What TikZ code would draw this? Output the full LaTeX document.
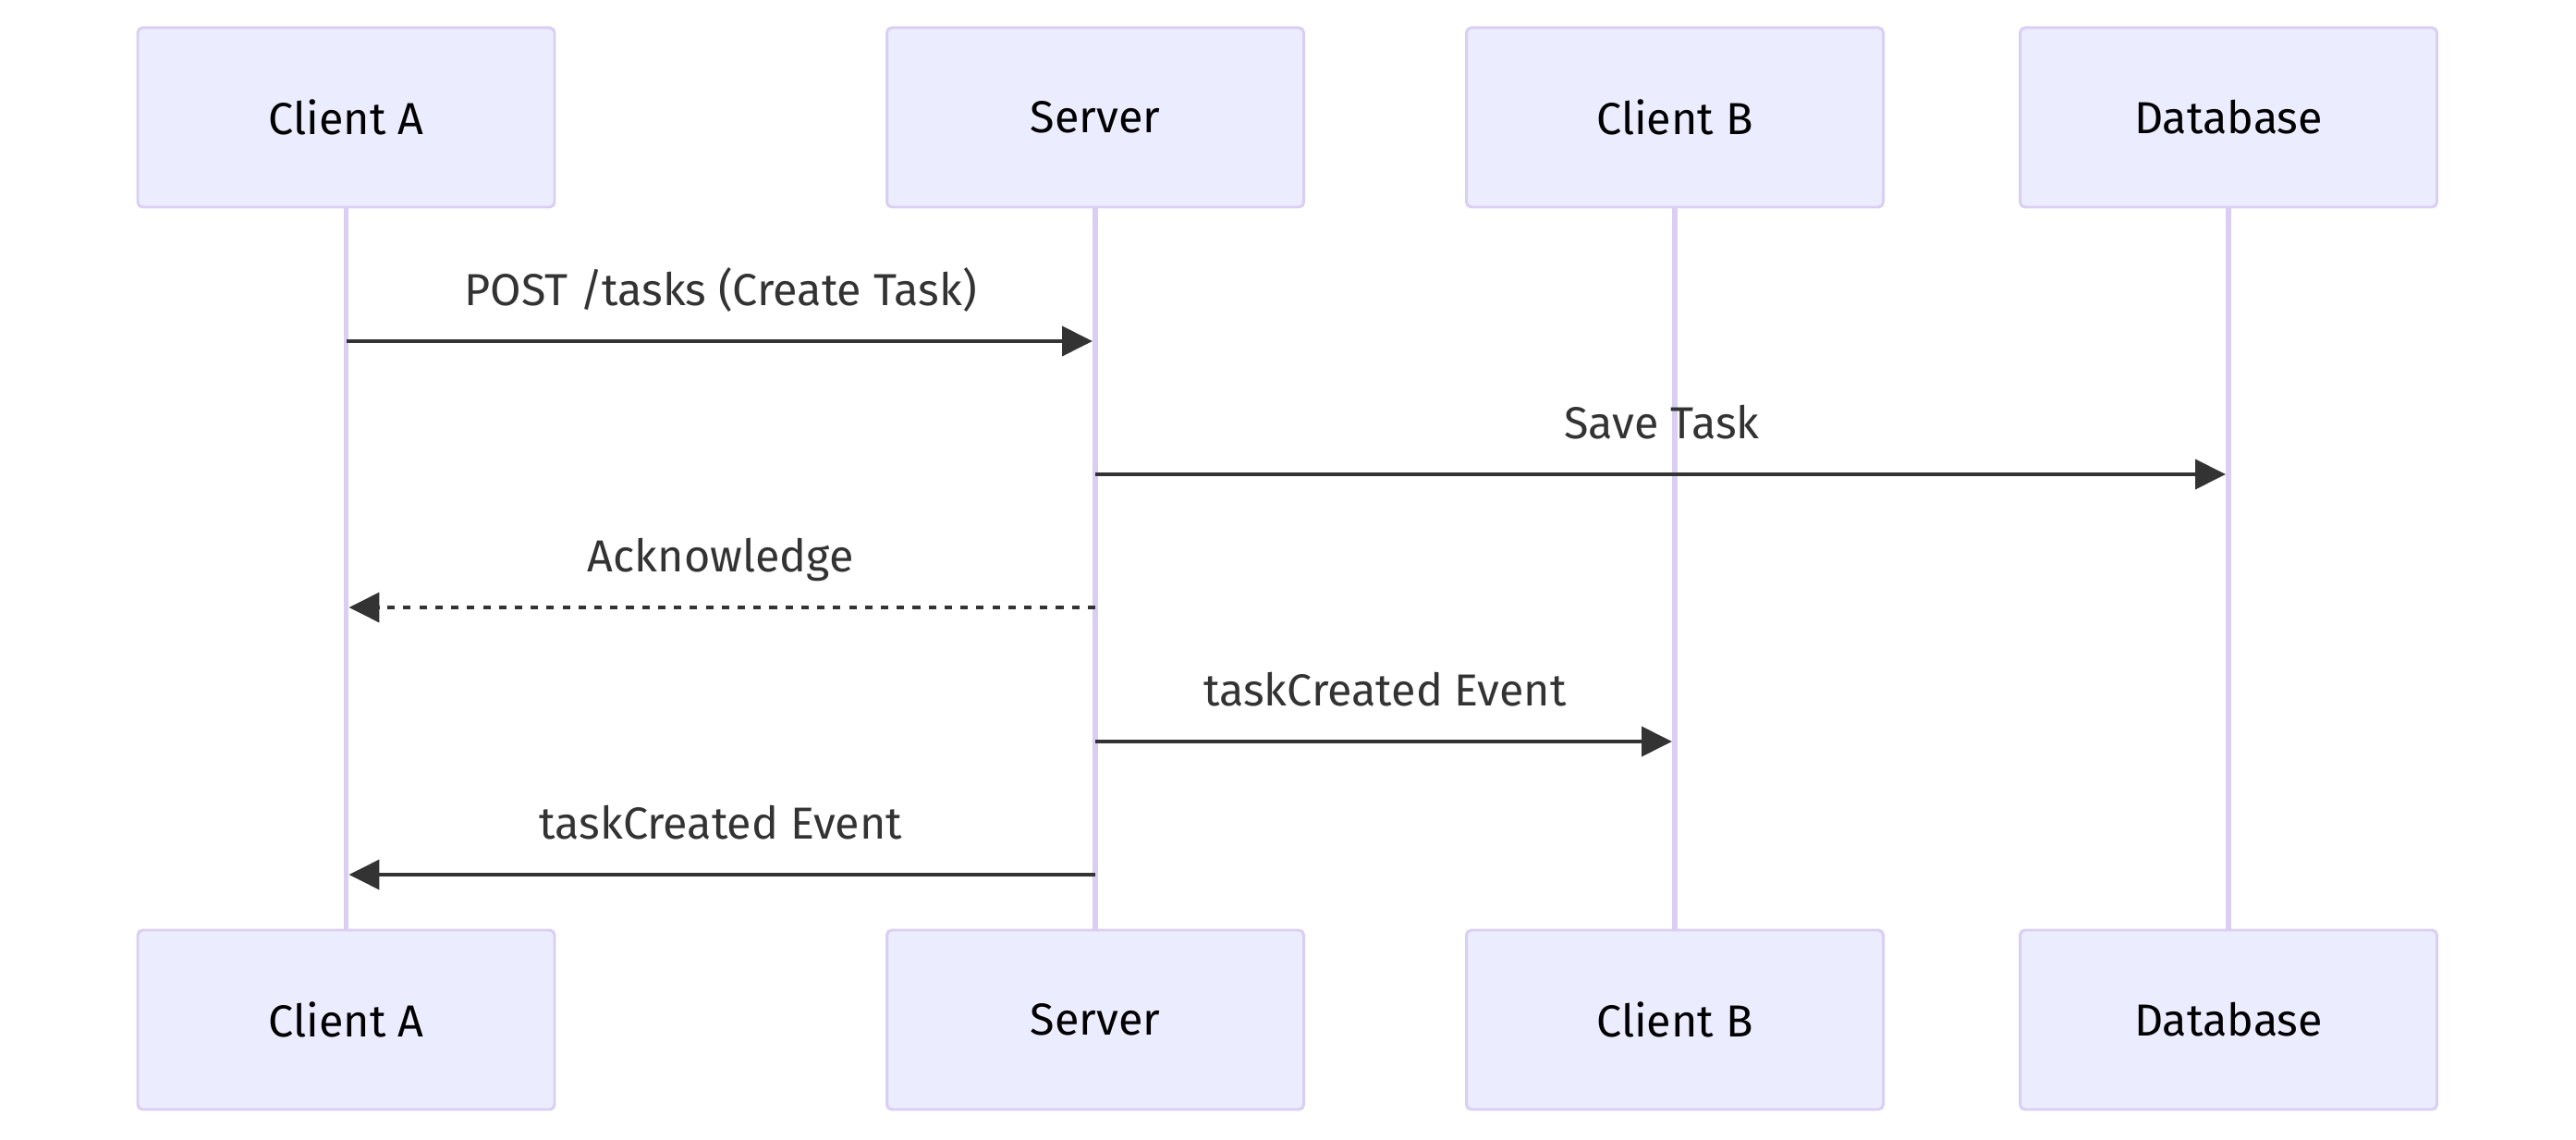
\documentclass[tikz,border=0pt]{standalone}
\usepackage{fontspec}
\setmainfont{Fira Sans}
\usetikzlibrary{arrows.meta}
\definecolor{actorfill}{HTML}{ECECFF}
\definecolor{actorborder}{HTML}{DACEF3}
\definecolor{lifelinepurple}{HTML}{DACEF3}
\definecolor{msgdark}{HTML}{333333}

\begin{document}
\begin{tikzpicture}[
        actor/.style={rectangle, rounded corners=1.5pt, draw=actorborder, line width=0.85pt, fill=actorfill, minimum width=4.51cm, minimum height=1.94cm, font=\fontsize{13.8}{16}\selectfont, text=black},
        life/.style={draw=lifelinepurple, line width=1.7pt},
        msg/.style={-{Triangle[length=0.33cm, width=0.32cm]}, line width=1.1pt, draw=msgdark, shorten >=0.85pt},
        reply/.style={msg, dash pattern=on 2.3pt off 2.6pt},
        msglabel/.style={anchor=base, inner sep=0pt, yshift=0.38cm, text=msgdark, font=\fontsize{13.8}{16}\selectfont}
    ]
    \useasboundingbox (0,0) rectangle (27.87,-12.33);

    % Participants (top row)
    \node[actor] (clientA) at (3.745, -1.27) {Client A};
    \node[actor] (server) at (11.85, -1.27) {Server};
    \node[actor] (clientB) at (18.12, -1.27) {Client B};
    \node[actor] (db) at (24.11, -1.27) {Database};

    % Participants (bottom row)
    \node[actor] (clientAb) at (3.745, -11.03) {Client A};
    \node[actor] (serverb) at (11.85, -11.03) {Server};
    \node[actor] (clientBb) at (18.12, -11.03) {Client B};
    \node[actor] (dbb) at (24.11, -11.03) {Database};

    % Lifelines
    \draw[life] (clientA.south) -- (clientAb.north);
    \draw[life] (server.south) -- (serverb.north);
    \draw[life] (clientB.south) -- (clientBb.north);
    \draw[life] (db.south) -- (dbb.north);

    % Message rows
    \coordinate (row1) at (0, -3.69);
    \coordinate (row2) at (0, -5.13);
    \coordinate (row3) at (0, -6.57);
    \coordinate (row4) at (0, -8.02);
    \coordinate (row5) at (0, -9.46);

    % Messages
    \draw[msg] (clientA |- row1) -- node[msglabel] {POST /tasks (Create Task)} (server |- row1);
    \draw[msg] (server |- row2) -- node[msglabel] {Save Task} (db |- row2);
    \draw[reply] (server |- row3) -- node[msglabel] {Acknowledge} (clientA |- row3);
    \draw[msg] (server |- row4) -- node[msglabel] {taskCreated Event} (clientB |- row4);
    \draw[msg] (server |- row5) -- node[msglabel] {taskCreated Event} (clientA |- row5);

\end{tikzpicture}
\end{document}
